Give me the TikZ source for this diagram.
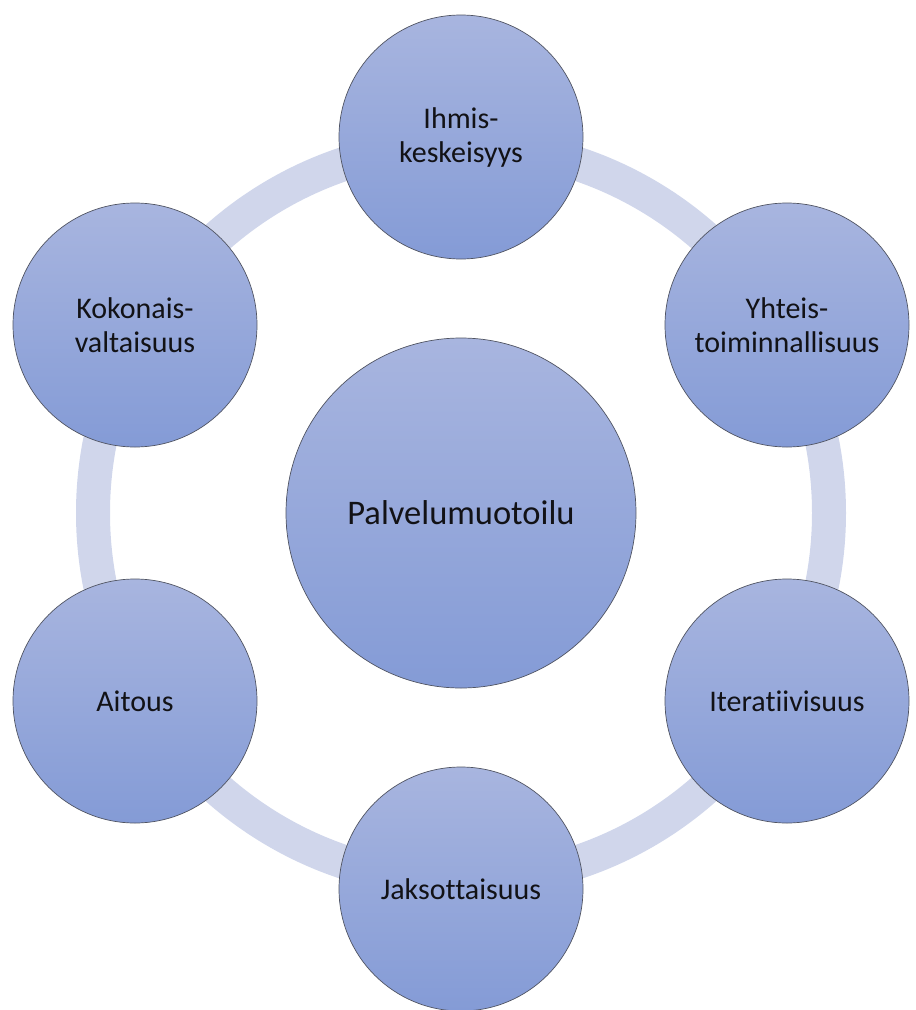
\documentclass[tikz,border=0pt]{standalone}
\usepackage{fontspec}
\setmainfont[Ligatures={NoCommon}]{Carlito}
\definecolor{ringblue}{RGB}{208,214,235}
\definecolor{bubtop}{RGB}{168,181,223}
\definecolor{bubbot}{RGB}{132,155,214}
\definecolor{bubedge}{RGB}{80,84,98}
\definecolor{txt}{RGB}{18,18,22}
\begin{document}
\begin{tikzpicture}[x=1pt,y=-1pt,
  bubble/.style={circle, draw=bubedge, line width=0.7pt, top color=bubtop,
    bottom color=bubbot, inner sep=0pt, align=center, text=txt},
  smallbub/.style={bubble, minimum size=244pt, font=\fontsize{30}{34}\selectfont},
  bigbub/.style={bubble, minimum size=350pt, font=\fontsize{34.5}{40}\selectfont},
  ringstyle/.style={circle, draw=ringblue, line width=34pt, minimum size=736pt, inner sep=0pt}]
  \useasboundingbox (0,0) rectangle (916,1010);
  % background ring linking the outer bubbles
  \node[ringstyle] (ring) at (461,513) {};
  % central bubble
  \node[bigbub] (core) at (461,513) {Palvelumuotoilu};
  % six surrounding bubbles on a hexagon
  \node[smallbub] (ihmis) at (461,137) {Ihmis-\\keskeisyys};
  \node[smallbub] (yhteis) at (787,325) {Yhteis-\\toiminnallisuus};
  \node[smallbub] (iter) at (787,701) {Iteratiivisuus};
  \node[smallbub] (jakso) at (461,889) {Jaksottaisuus};
  \node[smallbub] (aitous) at (135,701) {Aitous};
  \node[smallbub] (kokon) at (135,325) {Kokonais-\\valtaisuus};
\end{tikzpicture}
\end{document}
